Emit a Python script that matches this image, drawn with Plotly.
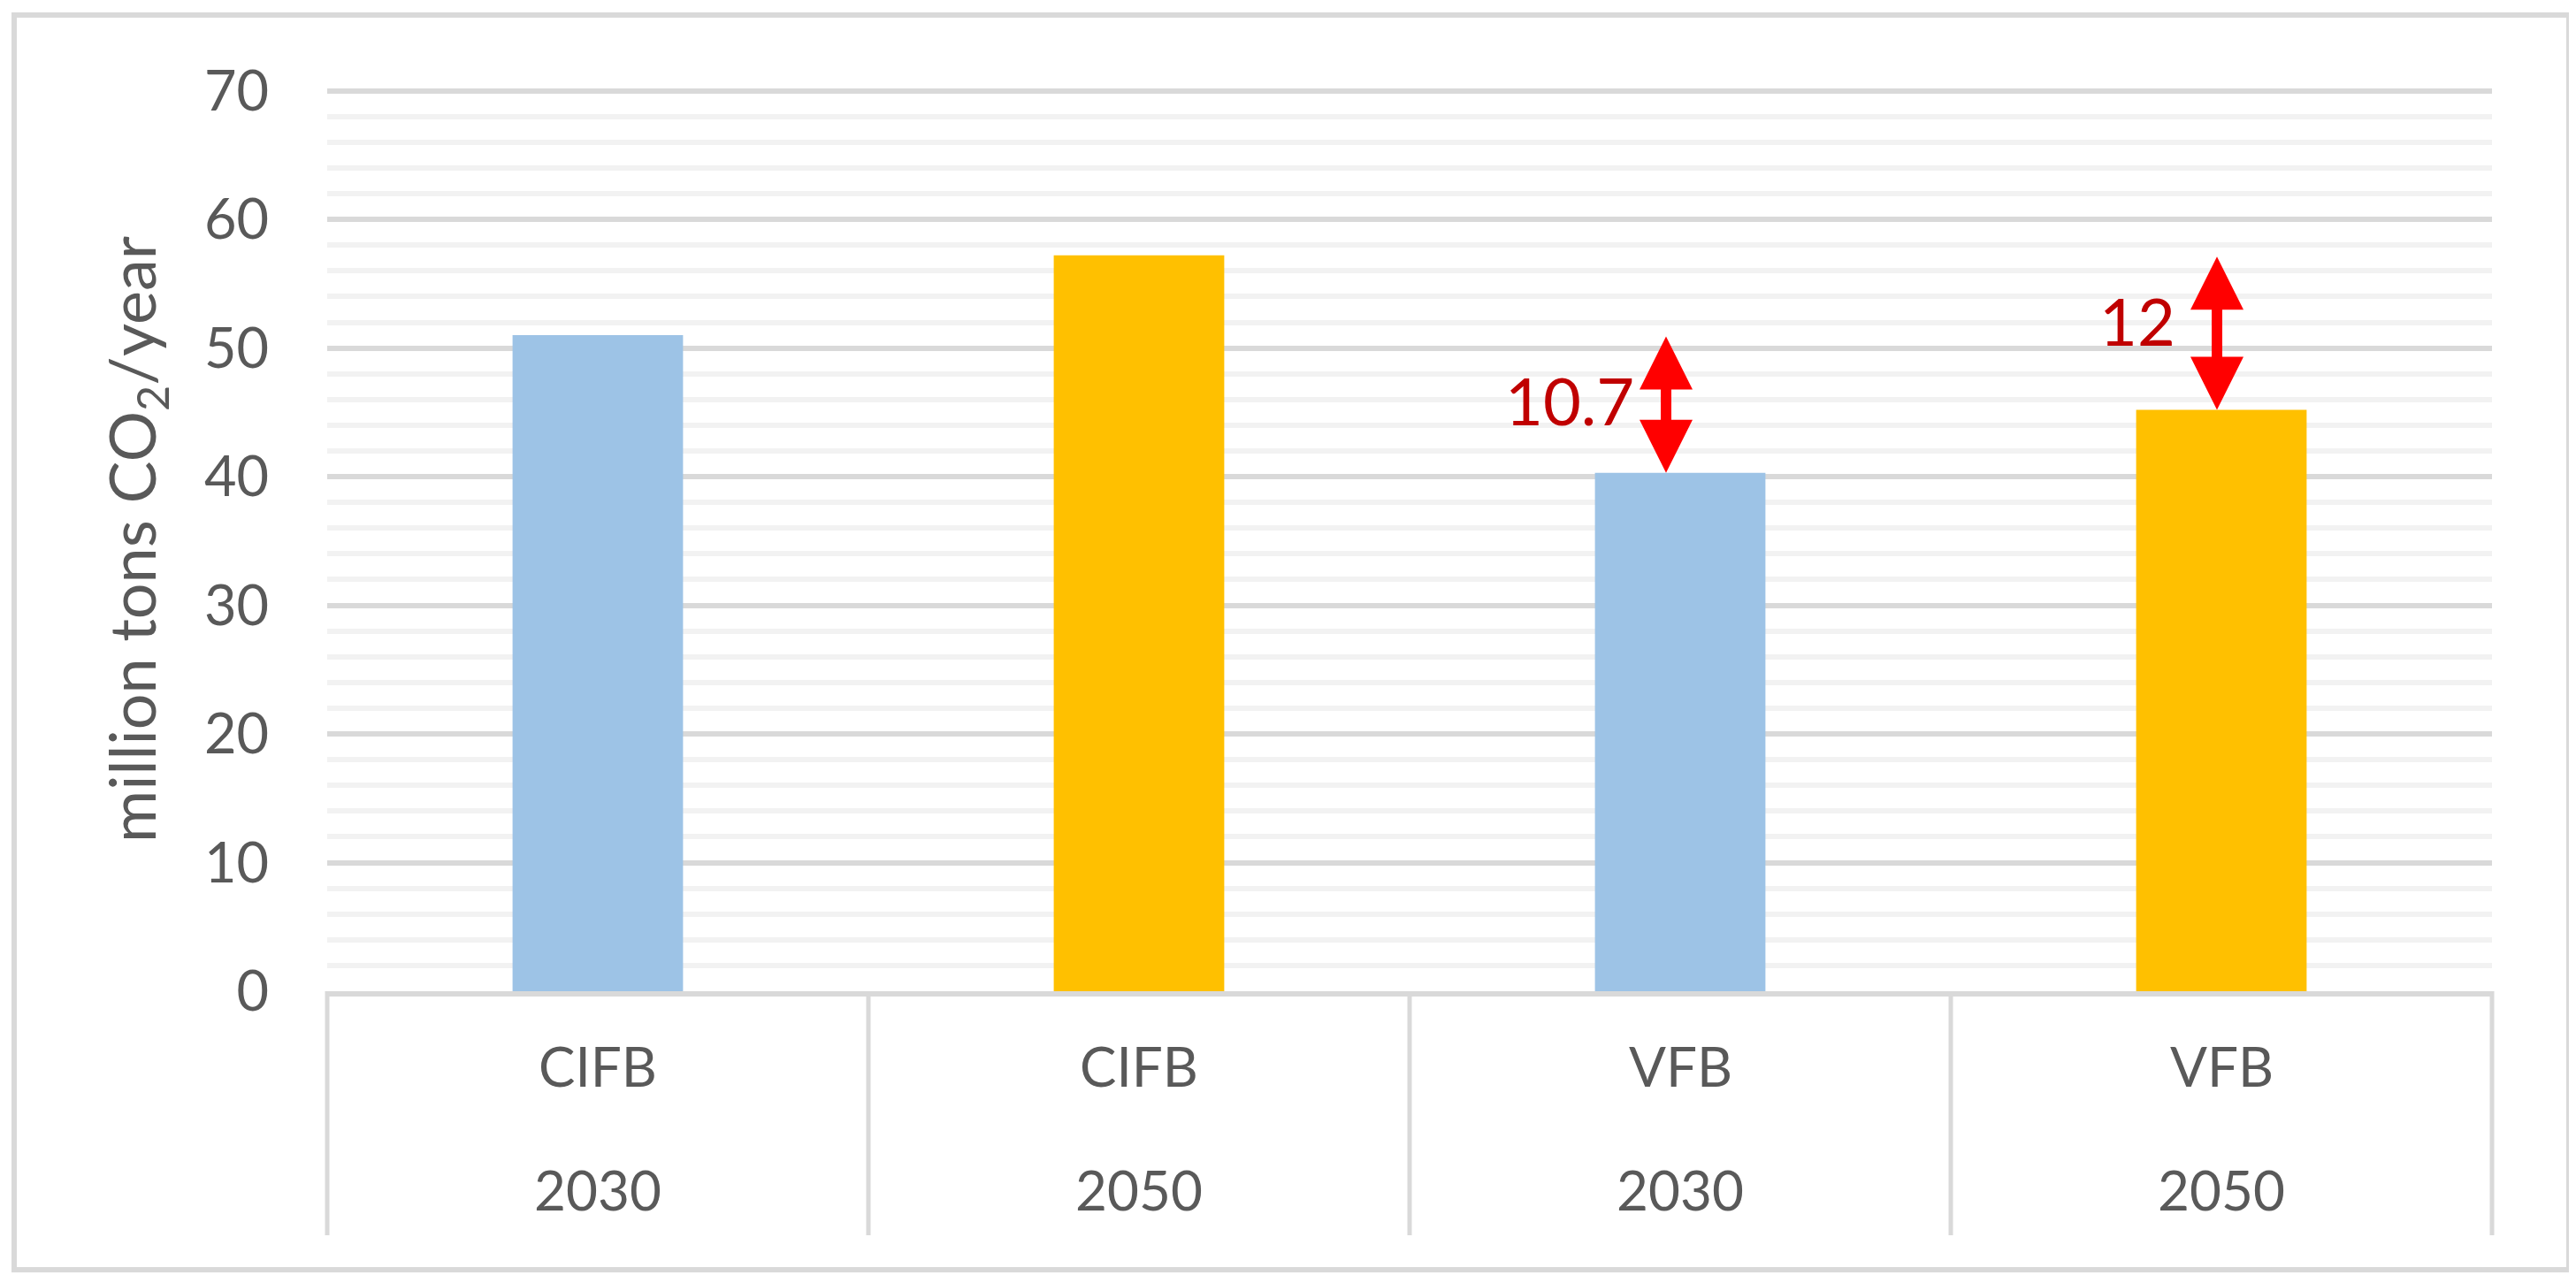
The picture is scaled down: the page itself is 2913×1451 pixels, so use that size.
import plotly.graph_objects as go

# ---- data ----
technologies = ["CIFB", "CIFB", "VFB", "VFB"]
years = ["2030", "2050", "2030", "2050"]
emissions = [51.0, 57.2, 40.3, 45.2]          # million tons CO2/year
year_colors = {"2030": "#9DC3E6", "2050": "#FFC000"}
reductions = [("VFB 2030", "CIFB 2030", "10.7"), ("VFB 2050", "CIFB 2050", "12")]
y_ticks = [0, 10, 20, 30, 40, 50, 60, 70]

categories = [f"{t} {y}" for t, y in zip(technologies, years)]
value_of = dict(zip(categories, emissions))

# page has an 8px body margin, so the figure is 8px smaller than the window
W, H = 2905, 1443
L, R, T, B = 362, 95, 91, 330
pw, ph = W - L - R, H - T - B

FONT = "Lato"
GREY = "#595959"
LINE = "#D9D9D9"

fig = go.Figure()
fig.add_trace(go.Bar(
    x=categories, y=emissions,
    marker=dict(color=[year_colors[y] for y in years], line=dict(width=0)),
    width=0.315, showlegend=False, hoverinfo="x+y",
))

annotations = []
# two-row category table labels
for cat, tech, yr in zip(categories, technologies, years):
    annotations.append(dict(x=cat, xref="x", y=-84 / ph, yref="paper",
                            text=tech, showarrow=False, xanchor="center", yanchor="middle",
                            font=dict(family=FONT, size=62, color=GREY)))
    annotations.append(dict(x=cat, xref="x", y=-224 / ph, yref="paper",
                            text=yr, showarrow=False, xanchor="center", yanchor="middle",
                            font=dict(family=FONT, size=62, color=GREY)))

# reduction arrows + labels
for (target, ref, label), xs, ys in zip(reductions, [-16, -5], [4, 14]):
    lo, hi = value_of[target], value_of[ref]
    annotations.append(dict(x=target, xref="x", y=lo, yref="y",
                            ax=target, axref="x", ay=hi, ayref="y",
                            text="", showarrow=True, arrowhead=2, startarrowhead=2,
                            arrowside="end+start", arrowwidth=12, arrowsize=1.0,
                            startarrowsize=1.0, arrowcolor="#FF0000",
                            standoff=0, startstandoff=0, xshift=xs))
    annotations.append(dict(x=target, xref="x", y=(lo + hi) / 2, yref="y",
                            text=label, showarrow=False, xanchor="right", yanchor="middle",
                            xshift=-50, yshift=ys,
                            font=dict(family=FONT, size=74, color="#C00000")))

shapes = []
# vertical dividers of the category table
n = len(categories)
for i in range(n + 1):
    shapes.append(dict(type="line", xref="paper", yref="paper",
                       x0=i / n, x1=i / n, y0=0, y1=-276 / ph,
                       line=dict(color=LINE, width=5)))
# outer chart border
shapes.append(dict(type="rect", xref="paper", yref="paper",
                   x0=(8 - L) / pw, x1=(2897 - L) / pw,
                   y0=(H - B - 1428) / ph, y1=(H - B - 9) / ph,
                   line=dict(color=LINE, width=6), fillcolor="rgba(0,0,0,0)", layer="below"))

fig.update_layout(
    width=W, height=H,
    margin=dict(l=L, r=R, t=T, b=B, autoexpand=False),
    paper_bgcolor="white", plot_bgcolor="white",
    font=dict(family=FONT, color=GREY),
    annotations=annotations, shapes=shapes,
    bargap=0.685,
)
fig.update_xaxes(
    categoryorder="array", categoryarray=categories,
    showticklabels=False, showgrid=False, zeroline=False,
    showline=True, linecolor=LINE, linewidth=6, ticks="",
)
fig.update_yaxes(
    range=[0, 70.25], tickvals=y_ticks, ticktext=[str(v) for v in y_ticks],
    showgrid=True, gridcolor=LINE, gridwidth=6,
    minor=dict(dtick=2, showgrid=True, gridcolor="#F2F2F2", gridwidth=6),
    zeroline=False, showline=False, ticks="",
    tickfont=dict(family=FONT, size=63, color=GREY),
    ticklabelstandoff=65,
    title=dict(text="million tons CO<sub>2</sub>/year", standoff=30,
               font=dict(family=FONT, size=72, color=GREY)),
)

fig.write_html("out.html")
